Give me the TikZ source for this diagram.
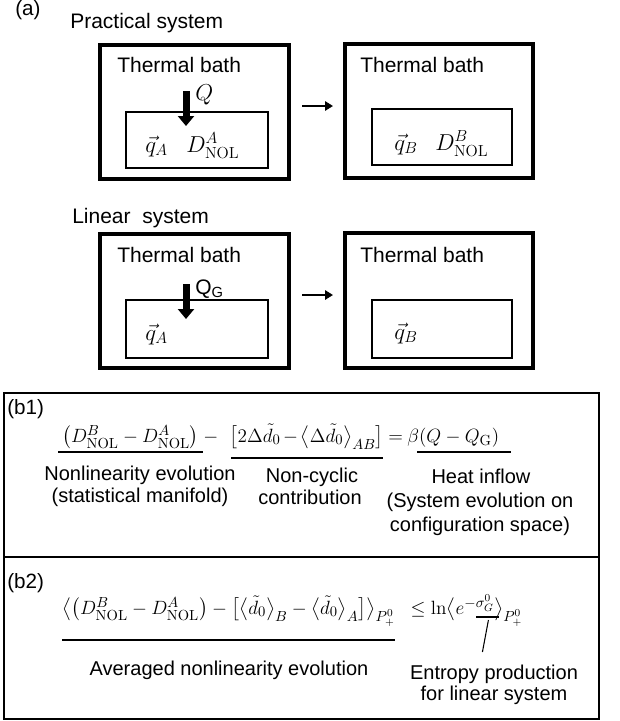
\documentclass[tikz,border=0pt]{standalone}
\usepackage[no-math]{fontspec}
\setmainfont{Liberation Sans}
\usepackage{amsmath}
\usetikzlibrary{arrows.meta,calc}
\tikzset{
  lab/.style={font=\fontsize{15.75}{18}\selectfont, inner sep=0pt, anchor=base west},
  tagl/.style={font=\fontsize{15.5}{18}\selectfont, inner sep=0pt, anchor=base west},
  blab/.style={font=\fontsize{15}{18}\selectfont, inner sep=0pt, anchor=base},
  mth/.style={font=\fontsize{16.5}{22.6}\selectfont, inner sep=0pt, anchor=base west},
  mthb/.style={font=\fontsize{15.5}{21.6}\selectfont, inner sep=0pt, anchor=base west},
  outerbox/.style={draw, line width=3pt, anchor=north west, inner sep=0pt, outer sep=0pt},
  innerbox/.style={draw, line width=1pt, anchor=north west, inner sep=0pt, outer sep=0pt},
  framebox/.style={draw, line width=1.1pt, anchor=north west, inner sep=0pt, outer sep=0pt},
  heat/.style={line width=5.25pt, -{Triangle[length=7.5pt,width=12pt]}},
  flow/.style={line width=2pt, -{Triangle[length=6pt,width=7pt]}},
  uline/.style={line width=1pt},
  thin/.style={line width=0.8pt},
}
\begin{document}
\begin{tikzpicture}[x=0.75pt, y=-0.75pt]
\useasboundingbox (0,0) rectangle (620,721);

% ---------- panel (a) ----------
\node[tagl] (ta) at (15,16) {(a)};
\node[lab] (tprac) at (70,28) {Practical system};

\node[outerbox, minimum width=189*0.75pt, minimum height=134*0.75pt] (pb1) at (100,45) {};
\node[innerbox, minimum width=142*0.75pt, minimum height=56*0.75pt] (pi1) at (126,112) {};
\node[outerbox, minimum width=188*0.75pt, minimum height=134*0.75pt] (pb2) at (345,44) {};
\node[innerbox, minimum width=140*0.75pt, minimum height=56*0.75pt] (pi2) at (372,109) {};

\node[lab] (pth1) at (117,72) {Thermal bath};
\node[lab] (pth2) at (360,72) {Thermal bath};
\node[mth] (pq) at (195,100) {$Q$};
\coordinate (pqs) at (186,91);
\coordinate (pqe) at (186,126);
\draw[heat] (pqs) -- (pqe);
\node[mth] (pqa) at (145,152) {$\vec{q}_A$};
\node[mth] (pda) at (186,152) {$D^A_{\mathrm{NOL}}$};
\node[mth] (pqb) at (394,150) {$\vec{q}_B$};
\node[mth] (pdb) at (435,150) {$D^B_{\mathrm{NOL}}$};
\coordinate (pa1) at (302,106);
\coordinate (pa2) at (333,106);
\draw[flow] (pa1) -- (pa2);

\node[lab] (tlin) at (72,223) {Linear~~system};
\node[outerbox, minimum width=189*0.75pt, minimum height=134*0.75pt] (lb1) at (100,234) {};
\node[innerbox, minimum width=142*0.75pt, minimum height=58*0.75pt] (li1) at (126,300) {};
\node[outerbox, minimum width=188*0.75pt, minimum height=135*0.75pt] (lb2) at (345,233) {};
\node[innerbox, minimum width=140*0.75pt, minimum height=58*0.75pt] (li2) at (372,300) {};
\node[lab] (lth1) at (117,262) {Thermal bath};
\node[lab] (lth2) at (360,262) {Thermal bath};
\node[lab] (lqg) at (195,294) {Q\textsubscript{G}};
\coordinate (lqs) at (186,284);
\coordinate (lqe) at (186,319);
\draw[heat] (lqs) -- (lqe);
\node[mth] (lqa) at (145,340) {$\vec{q}_A$};
\node[mth] (lqb) at (394,339) {$\vec{q}_B$};
\coordinate (la1) at (302,295);
\coordinate (la2) at (333,295);
\draw[flow] (la1) -- (la2);

% ---------- panel (b1) ----------
\node[framebox, minimum width=595*0.75pt, minimum height=164*0.75pt] (bb1) at (4,393) {};
\node[framebox, minimum width=595*0.75pt, minimum height=162*0.75pt] (bb2) at (4,557) {};
\node[tagl] (tb1) at (7,414) {(b1)};
\node[tagl] (tb2) at (7,588) {(b2)};

\node[mthb] (e1) at (62,442) {$\bigl(D^B_{\mathrm{NOL}}-D^A_{\mathrm{NOL}}\bigr)$};
\node[mthb] (e2) at ($(e1.base east)+(4,0)$) {$-$};
\node[mthb] (e3) at ($(e2.base east)+(11,0)$) {$\medmuskip=2.5mu\bigl[2\Delta\tilde{d}_0-\bigl\langle\Delta\tilde{d}_0\bigr\rangle_{AB}\bigr]$};
\node[mthb] (e4) at ($(e3.base east)+(4,0)$) {$=$};
\node[mthb] (e5) at ($(e4.base east)+(4,0)$) {$\beta(Q-Q_{\mathrm{G}})$};
\draw[uline] ($(e1.base west)+(-4,10)$) -- ($(e1.base east)+(4,10)$);
\draw[uline] ($(e3.base west)+(2,16)$) -- ($(e3.base east)+(-1,16)$);
\draw[uline] ($(e5.base west)+(10,10)$) -- ($(e5.base east)+(12,10)$);

\node[blab] (l1a) at (140,480) {Nonlinearity evolution};
\node[blab] (l1b) at (140,502) {(statistical manifold)};
\node[blab] (l2a) at (312,482) {Non-cyclic};
\node[blab] (l2b) at (310,504) {contribution};
\node[blab] (l3a) at (481,483) {Heat inflow};
\node[blab] (l3b) at (480,507) {(System evolution on};
\node[blab] (l3c) at (480,531) {configuration space)};

% ---------- panel (b2) ----------
\node[mthb] (f1) at (62,614) {$\bigl\langle\bigl(D^B_{\mathrm{NOL}}-D^A_{\mathrm{NOL}}\bigr)-\bigl[\bigl\langle\tilde{d}_0\bigr\rangle_B-\bigl\langle\tilde{d}_0\bigr\rangle_A\bigr]\bigr\rangle_{P_+^0}$};
\draw[uline] ($(f1.base west)+(0,26)$) -- ($(f1.base east)+(0,26)$);
\node[mthb] (f2) at ($(f1.base east)+(15,0)$) {$\leq\ln\bigl\langle e^{-\sigma_G^0}\bigr\rangle_{P_+^0}$};
\draw[thin] ($(f2.base west)+(66,3)$) -- ($(f2.base west)+(89,3)$);
\coordinate (s1) at ($(f2.base west)+(78,6)$);
\coordinate (s2) at ($(f2.base west)+(72,38)$);
\draw[thin] (s1) -- (s2);

\node[blab] (m1) at (229,675) {Averaged nonlinearity evolution};
\node[blab] (m2a) at (494,679) {Entropy production};
\node[blab] (m2b) at (494,700) {for linear system};
\end{tikzpicture}
\end{document}
